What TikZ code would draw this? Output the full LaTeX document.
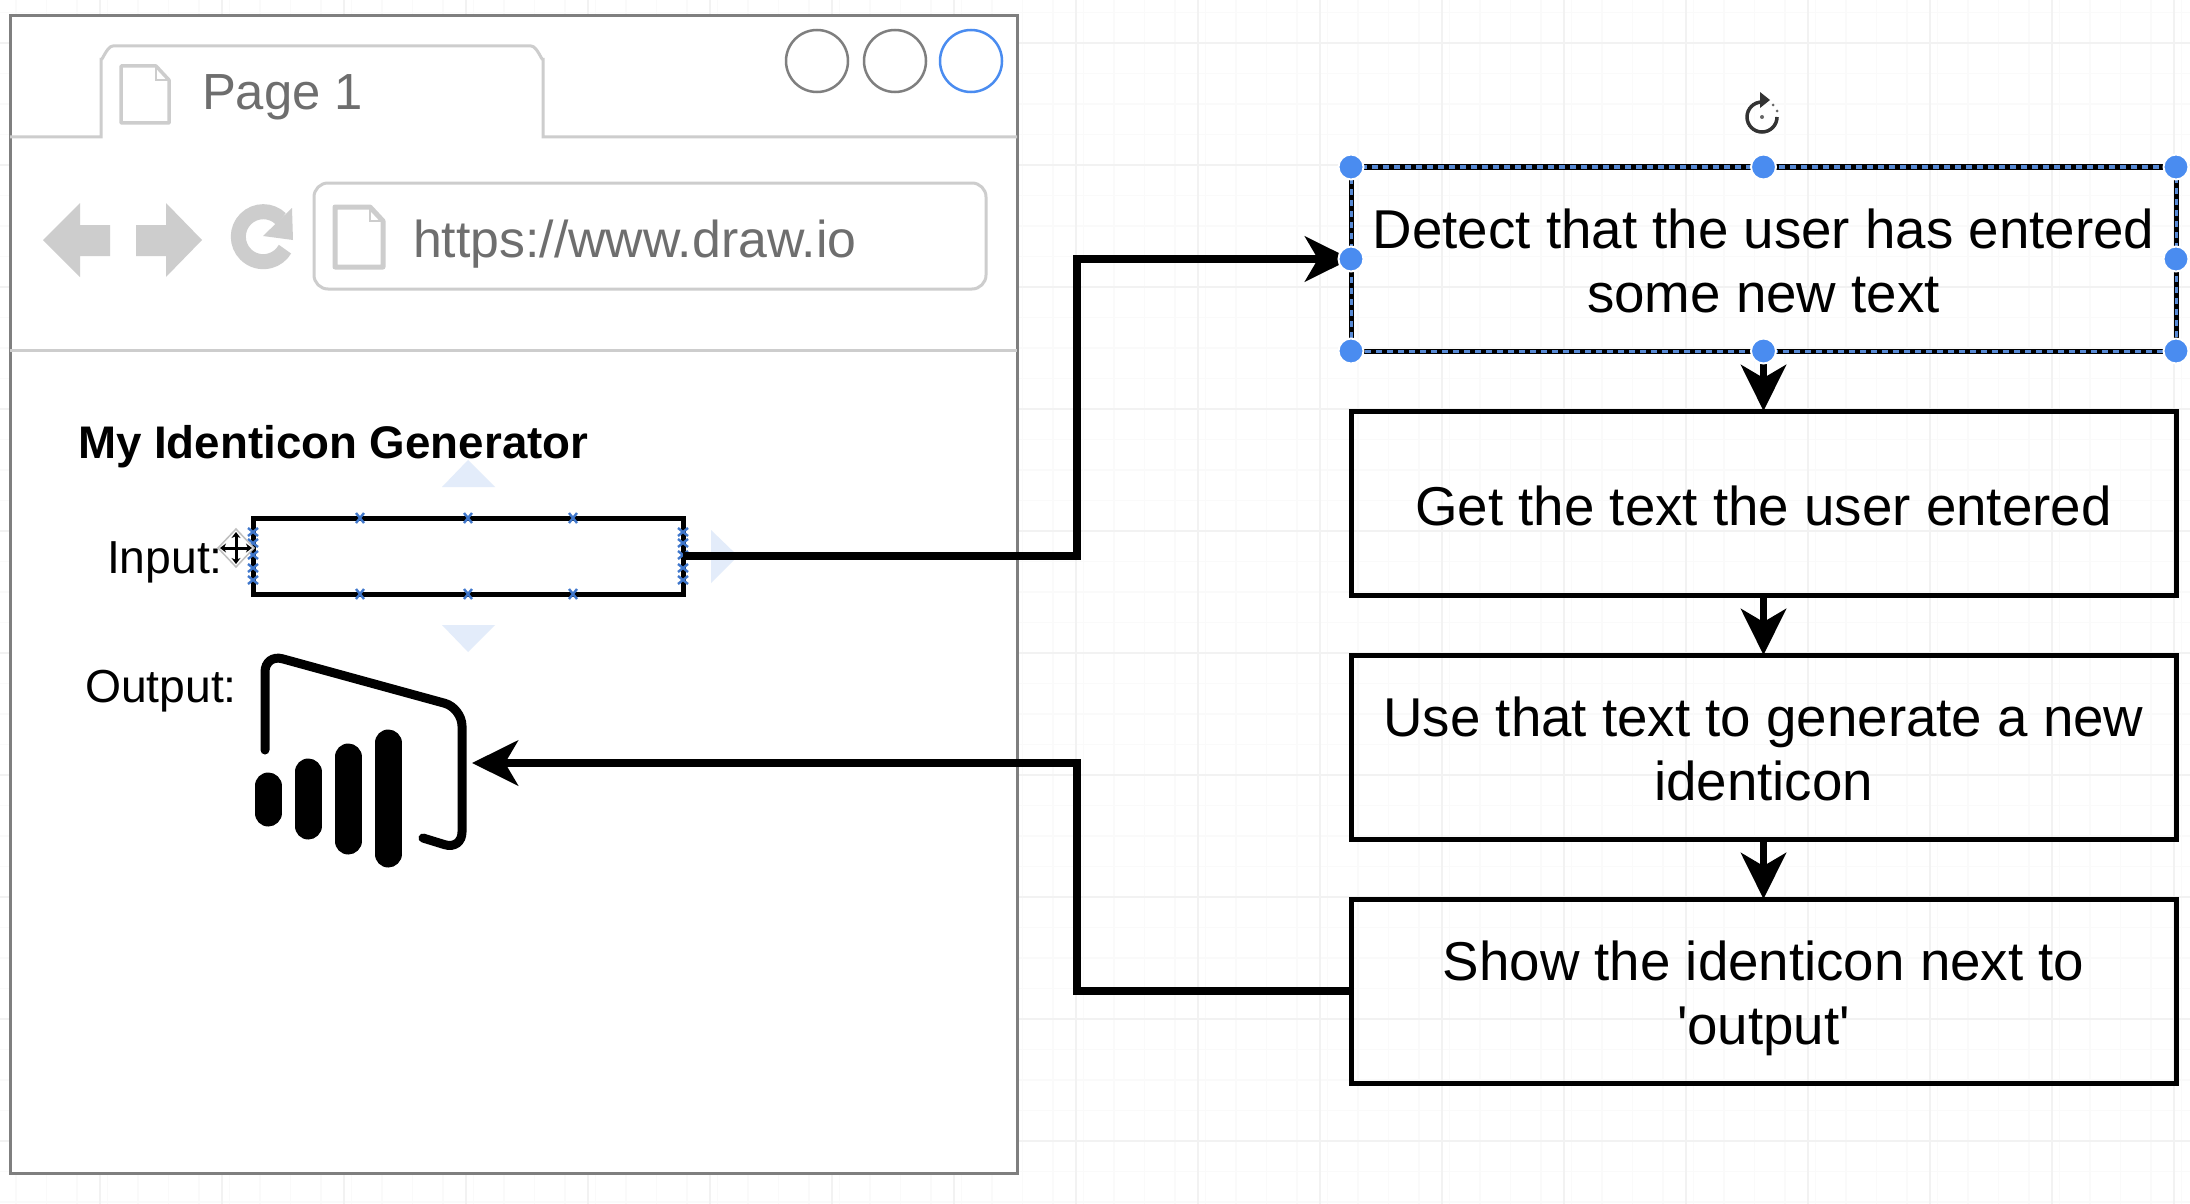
\documentclass[tikz,border=0pt]{standalone}
\usepackage{fontspec}
\setmainfont{Liberation Sans}
\newfontfamily\plainsans{Liberation Sans}
\usetikzlibrary{arrows.meta, positioning, calc}
\definecolor{accent}{HTML}{4A8CF0}
\definecolor{chrome}{HTML}{CDCDCD}
\definecolor{frame}{HTML}{7F7F7F}
\definecolor{captext}{HTML}{6E6E6E}
\definecolor{paleblue}{HTML}{E3ECFA}
\definecolor{gridmajor}{HTML}{F2F2F2}
\definecolor{gridminor}{HTML}{FAFAFA}

\begin{document}
\begin{tikzpicture}[
    x=1pt, y=-1pt,
    node distance=60pt,
    every node/.style={outer sep=0pt},
    stepbox/.style={draw=black, line width=5pt, minimum width=825pt, minimum height=184pt,
                    align=center, inner sep=0pt, text depth=0pt,
                    font=\plainsans\fontsize{54.7}{64}\selectfont},
    flow/.style={-{Stealth[length=46pt, width=45pt, inset=13pt]}, line width=7.5pt},
    caption/.style={inner sep=0pt, anchor=base west, font=\fontsize{46.3}{50}\selectfont},
    greytext/.style={inner sep=0pt, anchor=base west, text=captext, font=\fontsize{51.8}{56}\selectfont},
    docicon/.style={draw=chrome, line width=3.5pt, fill=white, line join=round},
    tool/.style={fill=chrome, draw=none},
    dot/.style={circle, fill=accent, draw=white, line width=2pt, minimum size=25pt, inner sep=0pt},
    pale/.style={fill=paleblue, draw=none},
    tick/.style={draw=accent!85!black, line width=2.4pt}
]
\useasboundingbox (0,0) rectangle (2190,1204);
\fill[white] (0,0) rectangle (2190,1204);

% canvas grid
\foreach \gx in {16,46.5,...,2190} \draw[gridminor, line width=1.2pt] (\gx,0) -- (\gx,1204);
\foreach \gy in {12.5,43,...,1204} \draw[gridminor, line width=1.2pt] (0,\gy) -- (2190,\gy);
\foreach \gx in {100,222,...,2190} \draw[gridmajor, line width=1.5pt] (\gx,0) -- (\gx,1204);
\foreach \gy in {43,165,...,1204} \draw[gridmajor, line width=1.5pt] (0,\gy) -- (2190,\gy);

% browser window
\node[draw=frame, line width=3pt, fill=white, minimum width=1007pt, minimum height=1157pt,
      inner sep=0pt, anchor=north west] (browser) at (10,16) {};
\draw[chrome, line width=3pt] (browser.west |- 0,137) -- (101,137) -- (101,58)
    to[out=-90, in=180] (113,46) -- (531,46) to[out=0, in=-90] (543,58) -- (543,137)
    -- (browser.east |- 0,137);
\draw[chrome, line width=3pt] (browser.west |- 0,350) -- (browser.east |- 0,350);
\foreach \cx/\cc in {817/frame, 895/frame, 971/accent}
    \node[circle, draw=\cc, line width=2.5pt, minimum size=62pt, inner sep=0pt] (win\cx) at (\cx,61) {};

% tab
\draw[docicon] (121,66) -- (156,66) -- (169,80) -- (169,123) -- (121,123) -- cycle;
\draw[chrome, line width=2pt] (156,66) -- (156,80) -- (169,80);
\node[greytext, font=\fontsize{50.8}{56}\selectfont] (pagetab) at (202,110) {Page 1};

% toolbar
\fill[tool] (43,240) -- (80,203) -- (80,225) -- (110,225) -- (110,256) -- (80,256) -- (80,277) -- cycle;
\fill[tool] (202,240) -- (166,203) -- (166,225) -- (136,225) -- (136,256) -- (166,256) -- (166,277) -- cycle;
\draw[chrome, line width=15pt] (281,219) arc (-45:-330:25);
\fill[tool] (292,208) -- (293,240) -- (263,236) -- cycle;
\node[draw=chrome, line width=3pt, rounded corners=14pt, minimum width=672pt, minimum height=106pt,
      anchor=north west, inner sep=0pt] (urlbar) at (314,183) {};
\draw[docicon, line width=5pt] (335,207) -- (370,207) -- (383,221) -- (383,267) -- (335,267) -- cycle;
\draw[chrome, line width=2pt] (370,207) -- (370,221) -- (383,221);
\node[greytext] (urltext) at (413,257) {https://www.draw.io};

% page content
\node[caption, font=\fontsize{45.7}{50}\selectfont\bfseries] (title) at (78,458) {My Identicon Generator};
\node[caption] (inputlabel) at (107,573) {Input:};
\node[caption] (outputlabel) at (85,702) {Output:};
\node[draw=black, line width=5pt, minimum width=430pt, minimum height=76pt, inner sep=0pt] (inputbox) at (468,556) {};

% hover arrows round the input
\fill[pale] (442,487) -- (468,460) -- (495,487) -- cycle;
\fill[pale] (442,625) -- (468,652) -- (495,625) -- cycle;
\fill[pale] (711,530) -- (738,556) -- (711,583) -- cycle;

% connection points
\foreach \tx in {360,468,573} \foreach \ty in {518,594} {
    \draw[tick] (\tx-4,\ty-5) -- (\tx+4,\ty+5) (\tx-4,\ty+5) -- (\tx+4,\ty-5);
}
\foreach \tx in {253,683} \foreach \ty in {532,543,555,568,580} {
    \draw[tick] (\tx-5,\ty-4) -- (\tx+5,\ty+4) (\tx-5,\ty+4) -- (\tx+5,\ty-4);
}

% identicon
\node[minimum width=224pt, minimum height=210pt, inner sep=0pt] (identicon) at (360,763) {};
\draw[line width=9pt, line cap=round, rounded corners=18pt] (265,750) -- (265,654) -- (462,708) -- (462,850) -- (423,838);
\foreach \bx/\btop/\bbot in {268/772/827, 308/758/840, 348/743/855, 388/729/868}
    \draw[line width=27pt, line cap=round] (\bx,\btop+14) -- (\bx,\bbot-14);

% flow steps
\node[stepbox, text height=106pt, anchor=north west] (detect) at (1351,167) {Detect that the user has entered\\some new text};
\node[stepbox, text height=45pt, below=of detect] (gettext) {Get the text the user entered};
\node[stepbox, text height=106pt, below=of gettext] (generate) {Use that text to generate a new\\identicon};
\node[stepbox, text height=106pt, below=of generate] (showit) {Show the identicon next to\\'output'};

\coordinate (busup) at (1077,0);

\draw[flow] (inputbox.east) -- (inputbox.east -| busup) -- (busup |- detect.west) -- (detect.west);
\draw[flow] (showit.west) -- (showit.west -| busup) -- (busup |- identicon.east) -- (identicon.east);
\draw[flow] (detect) -- (gettext);
\draw[flow] (gettext) -- (generate);
\draw[flow] (generate) -- (showit);

% selection on the first step
\draw[accent!75!gray, line width=3pt, dash pattern=on 6pt off 5pt] (detect.north west) rectangle (detect.south east);
\foreach \hanchor in {north west, north, north east, west, east, south west, south, south east}
    \node[dot] at (detect.\hanchor) {};

% rotate handle
\draw[line width=3.5pt, black!80] (1762,102) arc (-90:-360:15);
\fill[black!80] (1760,92) -- (1770,100) -- (1760,108) -- cycle;
\fill[black!60] (1762,117) circle (2pt) (1773,105) circle (1.5pt) (1777,111) circle (1.5pt);

% move cursor
\fill[white, draw=black!25, line width=1.5pt] (236,529) -- (254,548) -- (236,567) -- (218,548) -- cycle;
\draw[<->, >={Stealth[length=6pt, width=9pt]}, line width=3pt] (236,532) -- (236,564);
\draw[<->, >={Stealth[length=6pt, width=9pt]}, line width=3pt] (220,548) -- (252,548);
\end{tikzpicture}
\end{document}
